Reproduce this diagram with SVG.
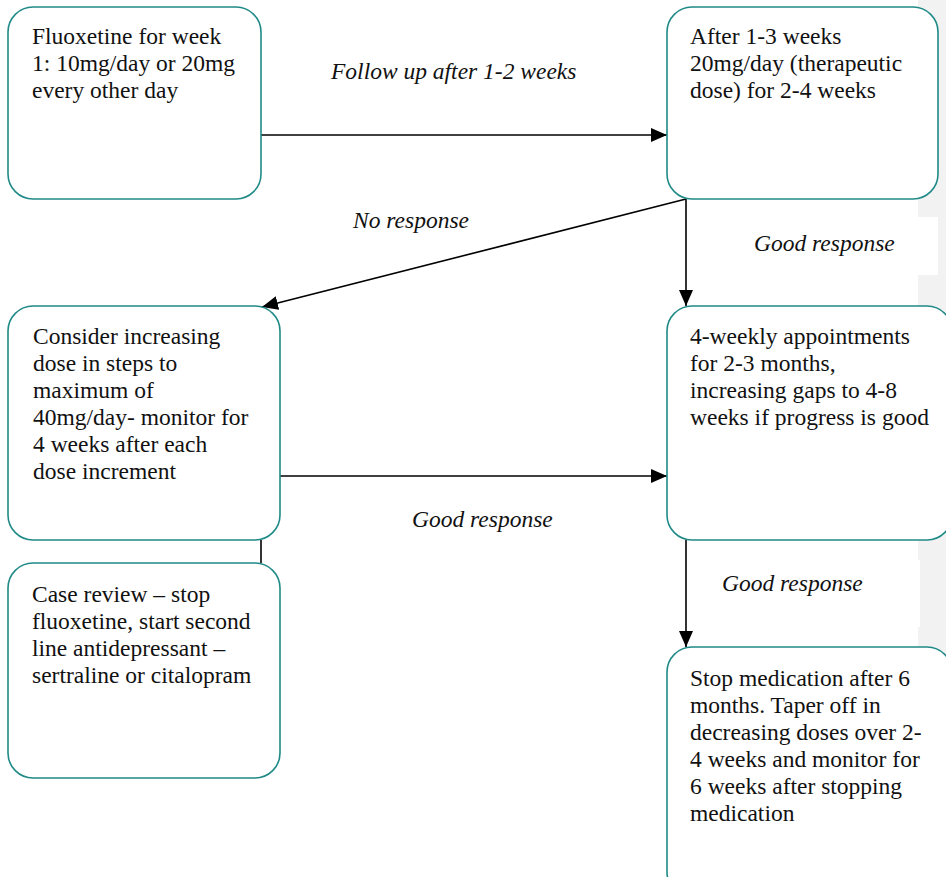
<svg xmlns="http://www.w3.org/2000/svg" width="946" height="877" viewBox="0 0 946 877">
<style>
.box{fill:#fff;stroke:#1f8a87;stroke-width:1.6}
.t{font-family:"Liberation Serif","Times New Roman",serif;font-size:23.5px;fill:#111}
.lbl{font-family:"Liberation Serif","Times New Roman",serif;font-size:23.5px;font-style:italic;fill:#111}
.c{stroke:#000;stroke-width:1.6;fill:none}
</style>
<defs>
<marker id="ah" viewBox="0 0 16 14" refX="16" refY="7" markerWidth="16" markerHeight="14" markerUnits="userSpaceOnUse" orient="auto">
<path d="M0,0 L16,7 L0,14 Z" fill="#000"/>
</marker>
</defs>
<rect x="0" y="0" width="946" height="877" fill="#fff"/>
<rect x="918" y="0" width="28" height="877" fill="#f2f2f2"/>
<rect x="740" y="217" width="198" height="58" fill="#fff"/>
<rect x="705" y="560" width="215" height="67" fill="#fff"/>

<g id="connectors">
<line class="c" x1="261" y1="135" x2="667" y2="135" marker-end="url(#ah)"/>
<line class="c" x1="686" y1="199" x2="262" y2="307" marker-end="url(#ah)"/>
<line class="c" x1="686" y1="199" x2="686" y2="306" marker-end="url(#ah)"/>
<line class="c" x1="280" y1="476" x2="667" y2="476" marker-end="url(#ah)"/>
<line class="c" x1="261" y1="540" x2="261" y2="563"/>
<line class="c" x1="686" y1="540" x2="686" y2="647" marker-end="url(#ah)"/>
<text class="lbl" x="331" y="79">Follow up after 1-2 weeks</text>
<text class="lbl" x="353" y="228">No response</text>
<text class="lbl" x="754" y="251">Good response</text>
<text class="lbl" x="412" y="527">Good response</text>
<text class="lbl" x="722" y="591">Good response</text>
</g>

<g id="n1">
<rect class="box" x="8" y="7" width="253" height="192" rx="25"/>
<text class="t" x="32" y="44">Fluoxetine for week</text>
<text class="t" x="32" y="71">1: 10mg/day or 20mg</text>
<text class="t" x="32" y="98">every other day</text>
</g>

<g id="n2">
<rect class="box" x="667" y="7" width="271" height="192" rx="25"/>
<text class="t" x="690" y="44">After 1-3 weeks</text>
<text class="t" x="690" y="71">20mg/day (therapeutic</text>
<text class="t" x="690" y="98">dose) for 2-4 weeks</text>
</g>

<g id="n3">
<rect class="box" x="8" y="306" width="272" height="234" rx="25"/>
<text class="t" x="33" y="344">Consider increasing</text>
<text class="t" x="33" y="371">dose in steps to</text>
<text class="t" x="33" y="398">maximum of</text>
<text class="t" x="33" y="425">40mg/day- monitor for</text>
<text class="t" x="33" y="452">4 weeks after each</text>
<text class="t" x="33" y="479">dose increment</text>
</g>

<g id="n4">
<rect class="box" x="667" y="306" width="285" height="234" rx="25"/>
<text class="t" x="690" y="344">4-weekly appointments</text>
<text class="t" x="690" y="371">for 2-3 months,</text>
<text class="t" x="690" y="398">increasing gaps to 4-8</text>
<text class="t" x="690" y="425">weeks if progress is good</text>
</g>

<g id="n5">
<rect class="box" x="8" y="563" width="272" height="215" rx="25"/>
<text class="t" x="32" y="602">Case review – stop</text>
<text class="t" x="32" y="629">fluoxetine, start second</text>
<text class="t" x="32" y="656">line antidepressant –</text>
<text class="t" x="32" y="683">sertraline or citalopram</text>
</g>

<g id="n6">
<rect class="box" x="667" y="647" width="285" height="250" rx="25"/>
<text class="t" x="690" y="686">Stop medication after 6</text>
<text class="t" x="690" y="713">months. Taper off in</text>
<text class="t" x="690" y="740">decreasing doses over 2-</text>
<text class="t" x="690" y="767">4 weeks and monitor for</text>
<text class="t" x="690" y="794">6 weeks after stopping</text>
<text class="t" x="690" y="821">medication</text>
</g>
</svg>
